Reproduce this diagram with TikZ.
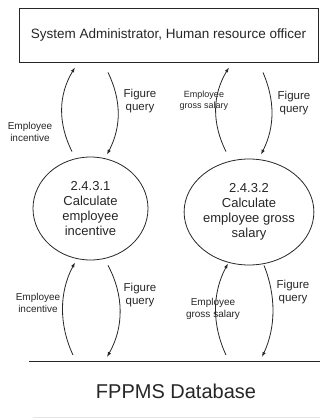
\documentclass[tikz,border=0pt]{standalone}
\usepackage{fontspec}
\setmainfont{Liberation Sans}
\usetikzlibrary{calc,arrows.meta,shapes.geometric}
\begin{document}
\begin{tikzpicture}[x=1pt,y=-1pt,
  ln/.style={line width=0.8pt,draw=black!85},
  flow/.style={ln,-{Latex[length=5pt,width=3.5pt]}},
  proc/.style={ellipse,ln,inner sep=0pt,align=center,font=\fontsize{13}{15}\selectfont,text=black!85},
  lbl/.style={align=center,inner sep=0pt,text=black!85},
  small/.style={lbl,font=\fontsize{10}{11.5}\selectfont},
  fq/.style={lbl,font=\fontsize{11.5}{12.5}\selectfont}]
\useasboundingbox (0,0) rectangle (320,420);
\node[ln,draw,minimum width=299pt,minimum height=54pt,inner sep=0pt,font=\fontsize{13.5}{15}\selectfont,text=black!85] (box) at (168.5,35) {System Administrator, Human resource officer};
\node[proc,minimum width=115pt,minimum height=103pt] (e1) at (90.5,208.5) {2.4.3.1\\Calculate\\employee\\incentive};
\node[proc,minimum width=126pt,minimum height=106pt] (e2) at (249,212) {2.4.3.2\\Calculate\\employee gross\\salary};
\coordinate (dbl) at (29,361);
\coordinate (dbr) at (320,361);
\draw[ln] (dbl) -- (dbr);
\coordinate (dbl2) at (33,417);
\coordinate (dbr2) at (320,417);
\draw[line width=0.6pt,black!10] (dbl2) -- (dbr2);
\node[lbl,font=\fontsize{20}{22}\selectfont] (db) at (176,391) {FPPMS Database};
% top left
\draw[flow] ($(e1.north)+(-18.5,-5)$) .. controls +(-14,-28) and +(-17,28) .. ($(e1.north|-box.south)+(-15.5,5)$);
\draw[flow] ($(e1.north|-box.south)+(17.5,10)$) .. controls +(13.5,28) and +(14.5,-28) .. ($(e1.north)+(16.5,-2)$);
% top right
\draw[flow] ($(e2.north)+(-23,-7)$) .. controls +(-14,-28) and +(-17,28) .. ($(e2.north|-box.south)+(-20,5)$);
\draw[flow] ($(e2.north|-box.south)+(14,10)$) .. controls +(12,28) and +(14,-28) .. ($(e2.north)+(12,-4)$);
% bottom left
\draw[flow] ($(e1.south|-dbl)+(-17.5,-6)$) .. controls +(-14,-30) and +(-16,30) .. ($(e1.south)+(-15.5,2)$);
\draw[flow] ($(e1.south)+(17.5,5)$) .. controls +(16,30) and +(17,-30) .. ($(e1.south|-dbl)+(16.5,-4)$);
% bottom right
\draw[flow] ($(e2.south|-dbl)+(-23,-6)$) .. controls +(-14,-30) and +(-16,30) .. ($(e2.south)+(-21,-2)$);
\draw[flow] ($(e2.south)+(15,0)$) .. controls +(12,30) and +(14,-30) .. ($(e2.south|-dbl)+(13,-4)$);
% labels
\node[fq] (l1) at (140,101) {Figure\\query};
\node[small] (l2) at (30,132) {Employee\\incentive};
\node[small,font=\fontsize{9}{11}\selectfont] (l3) at (204,101) {Employee\\gross salary};
\node[fq] (l4) at (294,103) {Figure\\query};
\node[small] (l5) at (38,303) {Employee\\incentive};
\node[fq] (l6) at (140,295) {Figure\\query};
\node[small] (l7) at (213,309) {Employee\\gross salary};
\node[fq] (l8) at (293,292) {Figure\\query};
\end{tikzpicture}
\end{document}
